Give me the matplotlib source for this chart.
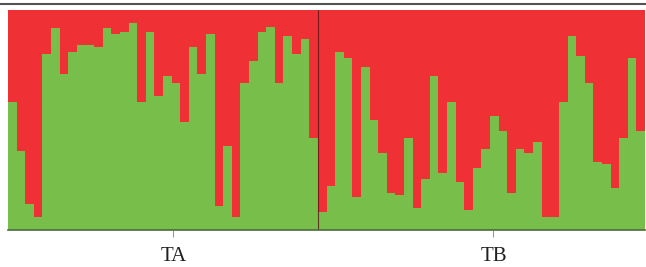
import matplotlib
matplotlib.use("Agg")
import matplotlib.pyplot as plt
import numpy as np

# Ancestry proportion of cluster 1 (green) for each individual; cluster 2 (red) = 1 - green
ta_green = [0.58, 0.36, 0.12, 0.06, 0.80, 0.92, 0.71, 0.81, 0.84, 0.84,
            0.83, 0.92, 0.89, 0.90, 0.94, 0.58, 0.90, 0.61, 0.70, 0.67,
            0.49, 0.83, 0.71, 0.89, 0.11, 0.38, 0.06, 0.67, 0.77, 0.90,
            0.925, 0.67, 0.88, 0.80, 0.87, 0.42]
tb_green = [0.08, 0.20, 0.81, 0.78, 0.15, 0.74, 0.50, 0.35, 0.17, 0.16,
            0.42, 0.10, 0.23, 0.70, 0.26, 0.58, 0.22, 0.09, 0.28, 0.37,
            0.52, 0.45, 0.17, 0.37, 0.35, 0.40, 0.06, 0.06, 0.58, 0.88,
            0.79, 0.67, 0.31, 0.30, 0.19, 0.42, 0.78, 0.45]
pop_labels = ["TA", "TB"]

green = np.array(ta_green + tb_green)
red = 1 - green
n = len(green)
x = np.arange(n) + 0.5

W, H = 646, 267
fig = plt.figure(figsize=(W / 100, H / 100), dpi=100)
ax = fig.add_axes([8 / W, (H - 230) / H, 637 / W, 220 / H])

c_green = "#77BF4A"
c_red = "#EF3034"
ax.bar(x, green, width=1.0, color=c_green, linewidth=0)
ax.bar(x, red, width=1.0, bottom=green, color=c_red, linewidth=0)

ax.set_xlim(0, n)
ax.set_ylim(0, 1)

# population separator
ax.axvline(len(ta_green), color="#5a1515", lw=0.8, alpha=0.8)

for s in ["top", "right", "left"]:
    ax.spines[s].set_visible(False)
ax.spines["bottom"].set_color("#4d6b3a")
ax.spines["bottom"].set_linewidth(1.2)

ax.set_yticks([])
tick_pos = [19.2, 56.4]
ax.set_xticks(tick_pos)
ax.set_xticklabels(pop_labels, family="Liberation Serif", fontsize=15, color="#222222")
ax.tick_params(axis="x", length=5, color="#999999", pad=7)

# top frame line
fig.add_artist(plt.Line2D([0, 1], [1 - 4 / H, 1 - 4 / H], color="#555555", lw=1.5,
                          transform=fig.transFigure))

fig.savefig("out.png", dpi=100)
